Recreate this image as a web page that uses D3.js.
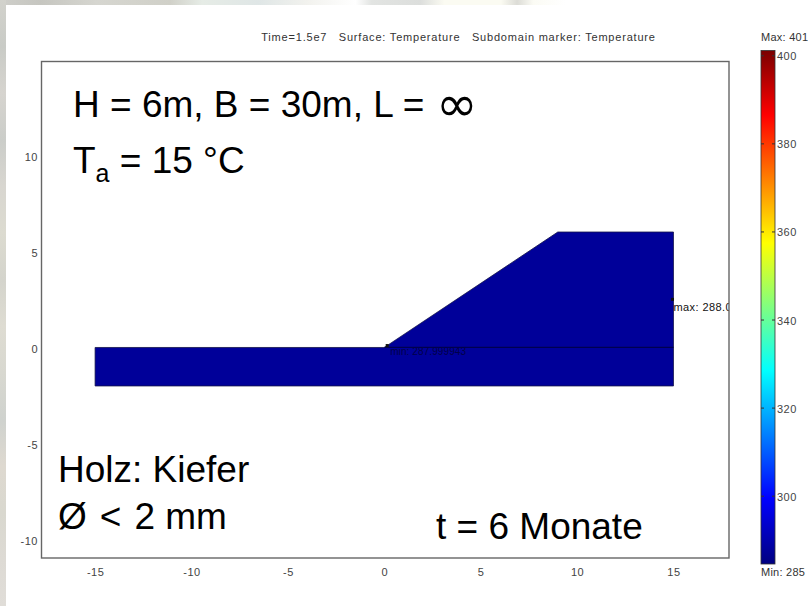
<!DOCTYPE html>
<html>
<head>
<meta charset="utf-8">
<script src="https://d3js.org/d3.v7.min.js"></script>
<style>
    html, body { margin: 0; padding: 0; background: #fff; }
    svg { display: block; }
    text { font-family: "Liberation Sans", Arial, sans-serif; }
    .small { font-size: 11px; fill: #333; letter-spacing: 0.25px; }
    .big { font-size: 37px; fill: #000; }
    .axis path, .axis line { display: none; }
    .axis text { font-size: 11px; fill: #444; font-family: "Liberation Sans", Arial, sans-serif; letter-spacing: 0.5px; }
    .bartick { stroke: #333; stroke-width: 1; }
</style>
</head>
<body>
<div id="chart"></div>
<script>
// tick labels
var xTicks = [-15, -10, -5, 0, 5, 10, 15];
var yTicks = [-10, -5, 0, 5, 10];
var barTicks = [300, 320, 340, 360, 380, 400];

// geometry of the model, in metres
var bodyX = [-15, 0, 9, 15, 15, -15];
var bodyY = [0, 0, 6, 6, -2, -2];
var seamX = [0, 15];
var seamY = [0, 0];
var markerX = [0.15, 14.95];
var markerY = [0.1, 2.5];
var markerText = ["min: 287.999943", "max: 288.07"];

// colour bar
var barMin = 284.6;
var barMax = 401.2;
var jetValues = [284.6, 299.5, 328.5, 343, 357.5, 386.5, 401.2];
var jetColors = ["#000080", "#0000ff", "#00ffff", "#80ff80", "#ffff00", "#ff0000", "#7a0000"];

// the photo showing behind the slide, only the edges are left
var topStripAt = [0, 0.05, 0.12, 0.21, 0.25, 0.32, 0.38, 0.44, 0.46, 0.52, 0.55, 0.62, 0.64, 0.66, 0.7, 1];
var topStripColors = ["#cfcfca", "#c6c6c0", "#d6d6d0", "#d0d0c8", "#e6ece6", "#dfe6e6", "#f2f2ee", "#ffffff", "#e2e4e2", "#dcdedc", "#fbfbf2", "#fbfbf2", "#dcdcd6", "#fbfbf4", "#ffffff", "#ffffff"];
var leftStripColors = ["#d2d2cc", "#c9cbc6", "#d6d4cf", "#cbcdc9", "#d8d6d0", "#dcdbd0", "#d4d4cc", "#dedcd2", "#d8d8d0", "#cfd2ce", "#ded9d0", "#d9d8cf", "#dddad4", "#e0ddd8"];

var width = 808, height = 606;

var x = d3.scaleLinear().domain([-17.78, 17.88]).range([41.5, 729]);
var y = d3.scaleLinear().domain([-10.94, 14.86]).range([558, 61.5]);
var barY = d3.scaleLinear().domain([barMin, barMax]).range([564, 50.5]);

// the original has plain hyphens on its axes
var tickFmt = function(d) { return String(d); };

var svg = d3.select("#chart").append("svg")
    .attr("width", width)
    .attr("height", height);

var defs = svg.append("defs");

function stripGradient(id, colors, vertical, at) {
    var g = defs.append("linearGradient").attr("id", id)
        .attr("x1", 0).attr("y1", 0)
        .attr("x2", vertical ? 0 : 1).attr("y2", vertical ? 1 : 0);
    g.selectAll("stop").data(colors).enter().append("stop")
        .attr("offset", function(d, i) { return at ? at[i] : i / (colors.length - 1); })
        .attr("stop-color", function(d) { return d; });
}
stripGradient("topStrip", topStripColors, false, topStripAt);
stripGradient("leftStrip", leftStripColors, true);

svg.append("rect").attr("width", width).attr("height", 5).attr("fill", "url(#topStrip)");
svg.append("rect").attr("width", 6).attr("height", height).attr("fill", "url(#leftStrip)");

// clip for the labels that run into the frame
defs.append("clipPath").attr("id", "plotClip").append("rect")
    .attr("x", x.range()[0]).attr("y", y.range()[1])
    .attr("width", x.range()[1] - x.range()[0])
    .attr("height", y.range()[0] - y.range()[1]);

// title
svg.append("text").attr("class", "small")
    .attr("x", 458.5).attr("y", 41)
    .attr("text-anchor", "middle")
    .style("white-space", "pre")
    .style("letter-spacing", "0.8px")
    .text("Time=1.5e7   Surface: Temperature   Subdomain marker: Temperature");

// model body
var line = d3.line().x(function(d) { return x(d[0]); }).y(function(d) { return y(d[1]); });

svg.append("path")
    .datum(d3.zip(bodyX, bodyY))
    .attr("d", function(d) { return line(d) + "Z"; })
    .attr("fill", "#000099")
    .attr("stroke", "#14144a")
    .attr("stroke-width", 0.8);

svg.append("path")
    .datum(d3.zip(seamX, seamY))
    .attr("d", line)
    .attr("fill", "none")
    .attr("stroke", "#000050")
    .attr("stroke-width", 1.2);

// min and max markers
svg.selectAll(".marker").data(markerX).enter().append("rect")
    .attr("class", "marker")
    .attr("x", function(d) { return x(d) - 1.5; })
    .attr("y", function(d, i) { return y(markerY[i]) - 1.5; })
    .attr("width", 3).attr("height", 3)
    .attr("fill", "#111");

svg.append("g").attr("clip-path", "url(#plotClip)")
    .selectAll("text").data(markerText).enter().append("text")
    .attr("x", function(d, i) { return x(markerX[i]) + (i == 0 ? 3 : 1); })
    .attr("y", function(d, i) { return y(markerY[i]) + (i == 0 ? 9.5 : 12); })
    .attr("font-size", function(d, i) { return i == 0 ? 10 : 11; })
    .attr("letter-spacing", function(d, i) { return i == 0 ? 0.1 : 0.4; })
    .attr("fill", function(d, i) { return i == 0 ? "#000048" : "#111"; })
    .text(function(d) { return d; });

// frame
svg.append("rect")
    .attr("x", x.range()[0]).attr("y", y.range()[1])
    .attr("width", x.range()[1] - x.range()[0])
    .attr("height", y.range()[0] - y.range()[1])
    .attr("fill", "none")
    .attr("stroke", "#666")
    .attr("stroke-width", 1.4);

// axes
svg.append("g").attr("class", "axis")
    .attr("transform", "translate(0,565)")
    .call(d3.axisBottom(x).tickValues(xTicks).tickSize(0).tickFormat(tickFmt));

svg.append("g").attr("class", "axis")
    .attr("transform", "translate(41,1.5)")
    .call(d3.axisLeft(y).tickValues(yTicks).tickSize(0).tickPadding(3).tickFormat(tickFmt));

// colour bar
var jet = defs.append("linearGradient").attr("id", "jet")
    .attr("x1", 0).attr("y1", 1).attr("x2", 0).attr("y2", 0);
jet.selectAll("stop").data(jetValues).enter().append("stop")
    .attr("offset", function(d) { return (d - barMin) / (barMax - barMin); })
    .attr("stop-color", function(d, i) { return jetColors[i]; });

svg.append("rect")
    .attr("x", 761).attr("y", barY(barMax))
    .attr("width", 14).attr("height", barY(barMin) - barY(barMax))
    .attr("fill", "url(#jet)")
    .attr("stroke", "#333")
    .attr("stroke-width", 0.8);

svg.selectAll(".tickL").data(barTicks).enter().append("line")
    .attr("class", "bartick")
    .attr("x1", 761).attr("x2", 764)
    .attr("y1", function(d) { return barY(d); })
    .attr("y2", function(d) { return barY(d); });
svg.selectAll(".tickR").data(barTicks).enter().append("line")
    .attr("class", "bartick")
    .attr("x1", 772).attr("x2", 775)
    .attr("y1", function(d) { return barY(d); })
    .attr("y2", function(d) { return barY(d); });

svg.append("g").attr("class", "axis")
    .attr("transform", "translate(775,0.5)")
    .call(d3.axisRight(barY).tickValues(barTicks).tickSize(0).tickPadding(2).tickFormat(tickFmt));

svg.append("text").attr("class", "small").attr("x", 761).attr("y", 41).text("Max: 401");
svg.append("text").attr("class", "small").attr("x", 761).attr("y", 576).text("Min: 285");

// annotations typed over the plot
svg.append("text").attr("class", "big").attr("x", 73).attr("y", 117).text("H = 6m, B = 30m, L =");
svg.append("text").attr("x", 436).attr("y", 121)
    .style("font-size", "50px").style("font-family", "DejaVu Sans").text("∞");

var ta = svg.append("text").attr("class", "big").attr("x", 73).attr("y", 173);
ta.append("tspan").text("T");
ta.append("tspan").attr("dy", 9).style("font-size", "25px").text("a");
ta.append("tspan").attr("dy", -9).text(" = 15 °C");

svg.append("text").attr("class", "big").attr("x", 58).attr("y", 482).text("Holz: Kiefer");

var dia = svg.append("text").attr("class", "big").attr("x", 58).attr("y", 529);
dia.append("tspan").text("Ø");
dia.append("tspan").attr("dx", 13).text("<");
dia.append("tspan").attr("dx", 13).text("2 mm");

svg.append("text").attr("class", "big").attr("x", 436).attr("y", 539).text("t = 6 Monate");
</script>
</body>
</html>
